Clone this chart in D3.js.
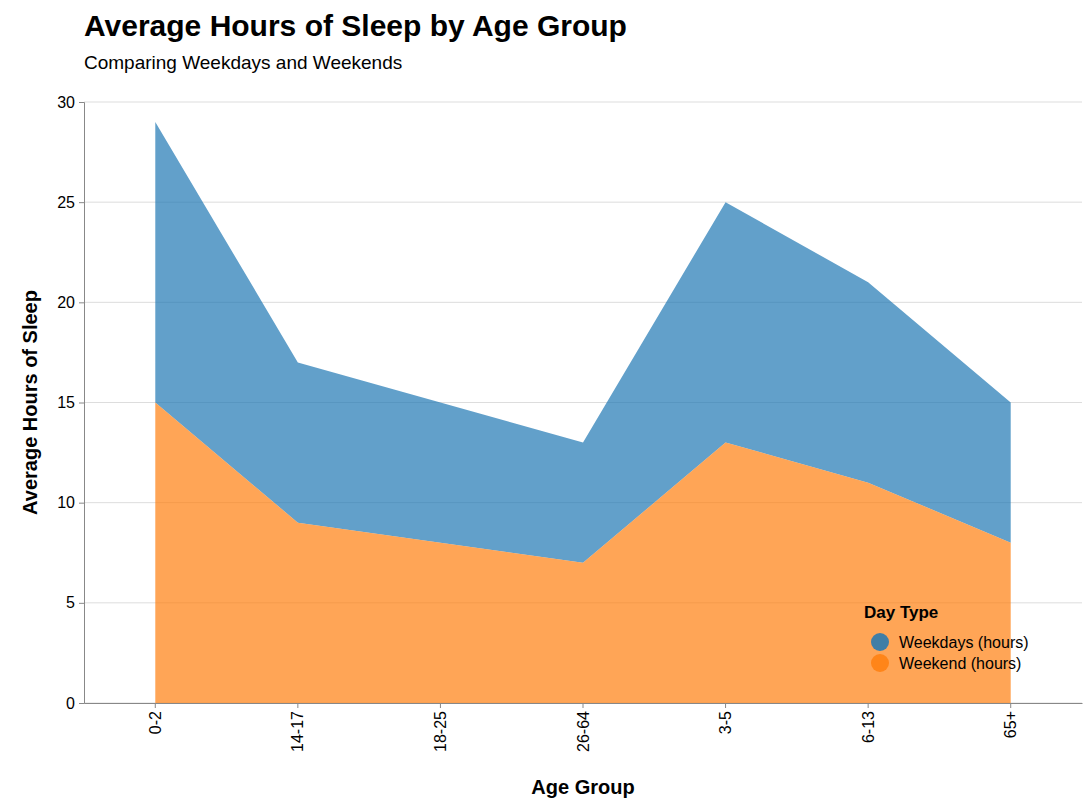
<!DOCTYPE html>
<html><head><meta charset="utf-8">
<script src="https://cdn.jsdelivr.net/npm/d3@7"></script>
<style>body{margin:0;background:#fff;font-family:"Liberation Sans",Arial,sans-serif}</style>
</head><body>
<script>
const ageGroups = ["0-2", "14-17", "18-25", "26-64", "3-5", "6-13", "65+"];
const weekdays = [14, 8, 7, 6, 12, 10, 7];
const weekend = [15, 9, 8, 7, 13, 11, 8];
const seriesNames = ["Weekdays (hours)", "Weekend (hours)"];
const colors = ["#1f77b4", "#ff7f0e"];

const W = 1092, H = 808;
const m = { l: 84, r: 10, t: 102, b: 105 };

const svg = d3.select("body").append("svg").attr("width", W).attr("height", H);

const x = d3.scaleBand().domain(ageGroups).range([m.l, W - m.r]);
const y = d3.scaleLinear().domain([0, 30]).range([H - m.b, m.t]);
const cx = (d) => x(d) + x.bandwidth() / 2;

// grid
svg.append("g").selectAll("line").data(y.ticks(6)).enter().append("line")
  .attr("x1", m.l).attr("x2", W - m.r)
  .attr("y1", (d) => y(d)).attr("y2", (d) => y(d))
  .attr("stroke", "#ddd");

const rows = ageGroups.map((g, i) => ({ g, wk: weekend[i], wd: weekdays[i] }));

// weekend at bottom, weekdays stacked on top
const areaWeekend = d3.area().x((d) => cx(d.g)).y0(y(0)).y1((d) => y(d.wk));
const areaWeekdays = d3.area().x((d) => cx(d.g)).y0((d) => y(d.wk)).y1((d) => y(d.wk + d.wd));

svg.append("path").datum(rows).attr("d", areaWeekdays).attr("fill", colors[0]).attr("fill-opacity", 0.7);
svg.append("path").datum(rows).attr("d", areaWeekend).attr("fill", colors[1]).attr("fill-opacity", 0.7);

// axes
const yAxis = svg.append("g").attr("transform", `translate(${m.l},0)`)
  .call(d3.axisLeft(y).ticks(6).tickSize(5).tickPadding(4));
yAxis.select(".domain").attr("stroke", "#888");
yAxis.selectAll(".tick line").attr("stroke", "#888");
yAxis.selectAll("text").attr("font-size", 16).attr("fill", "#000").attr("font-family", "Liberation Sans, Arial");

const xAxis = svg.append("g").attr("transform", `translate(0,${H - m.b})`)
  .call(d3.axisBottom(x).tickSize(5).tickSizeOuter(0));
xAxis.select(".domain").attr("stroke", "#888");
xAxis.selectAll(".tick line").attr("stroke", "#888");
xAxis.selectAll("text").attr("font-size", 16).attr("fill", "#000").attr("font-family", "Liberation Sans, Arial")
  .attr("transform", "rotate(-90)").attr("text-anchor", "end")
  .attr("x", -8).attr("y", 0).attr("dy", "0.35em");

// titles
svg.append("text").attr("x", m.l).attr("y", 36).attr("font-size", 30).attr("font-weight", "bold")
  .text("Average Hours of Sleep by Age Group");
svg.append("text").attr("x", m.l).attr("y", 69).attr("font-size", 19)
  .text("Comparing Weekdays and Weekends");
svg.append("text").attr("x", (m.l + W - m.r) / 2).attr("y", 794).attr("text-anchor", "middle")
  .attr("font-size", 20).attr("font-weight", "bold").text("Age Group");
svg.append("text").attr("transform", `translate(37,${(m.t + H - m.b) / 2}) rotate(-90)`)
  .attr("text-anchor", "middle").attr("font-size", 20).attr("font-weight", "bold").text("Average Hours of Sleep");

// legend
const lg = svg.append("g").attr("transform", "translate(864,618)");
lg.append("text").attr("x", 0).attr("y", 0).attr("font-size", 17).attr("font-weight", "bold").text("Day Type");
seriesNames.forEach((s, i) => {
  lg.append("circle").attr("cx", 16).attr("cy", 24 + i * 21).attr("r", 9)
    .attr("fill", colors[i]).attr("fill-opacity", 0.85);
  lg.append("text").attr("x", 35).attr("y", 30 + i * 21).attr("font-size", 16).text(s);
});
</script>
</body></html>
